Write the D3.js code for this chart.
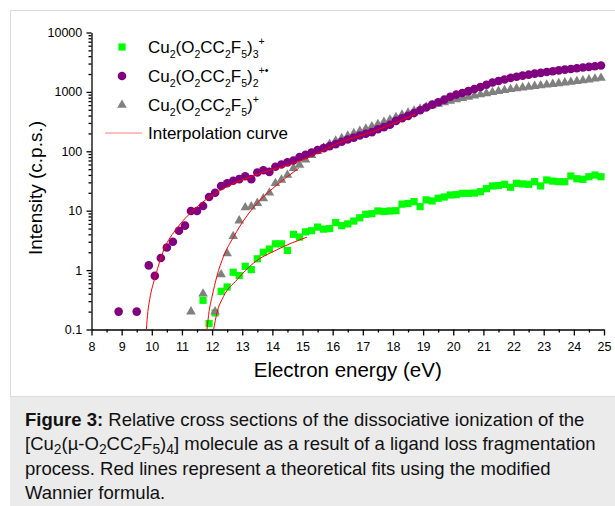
<!DOCTYPE html>
<html>
<head>
<meta charset="utf-8">
<script src="https://cdn.jsdelivr.net/npm/d3@7"></script>
<style>
  body { margin: 0; background: #fff; }
  svg { display: block; font-family: "Liberation Sans", Arial, sans-serif; }
</style>
</head>
<body>
<svg width="615" height="506"></svg>
<script>
// Energy grid (eV), one value every 0.2 eV
const energy = [8.9, 9.1, 9.3, 9.5, 9.7, 9.9, 10.1, 10.3, 10.5, 10.7, 10.9, 11.1, 11.3, 11.5, 11.7, 11.9,
  12.1, 12.3, 12.5, 12.7, 12.9, 13.1, 13.3, 13.5, 13.7, 13.9, 14.1, 14.3, 14.5, 14.7, 14.9,
  15.1, 15.3, 15.5, 15.7, 15.9, 16.1, 16.3, 16.5, 16.7, 16.9, 17.1, 17.3, 17.5, 17.7, 17.9,
  18.1, 18.3, 18.5, 18.7, 18.9, 19.1, 19.3, 19.5, 19.7, 19.9, 20.1, 20.3, 20.5, 20.7, 20.9,
  21.1, 21.3, 21.5, 21.7, 21.9, 22.1, 22.3, 22.5, 22.7, 22.9, 23.1, 23.3, 23.5, 23.7, 23.9,
  24.1, 24.3, 24.5, 24.7, 24.9];

// Cu2(O2CC2F5)3+  (green squares)
const tris = [null, null, null, null, null, null, null, null, null, null, null, null, null, null, 0.31, 0.126,
  0.19, 0.44, 0.52, 0.92, 0.81, 1.16, 1.02, 1.55, 2.0, 2.26, 2.77, 2.77, 2.14, 4.0, 3.6,
  4.4, 4.6, 5.3, 4.9, 5.0, 6.3, 5.6, 6.0, 6.7, 7.6, 8.7, 8.9, 9.9, 9.7, 9.9,
  10.0, 12.9, 13.2, 14.2, 11.7, 15.2, 14.6, 16.2, 17.0, 18.4, 18.6, 19.6, 19.6, 19.8, 20.9,
  23.5, 26.1, 26.5, 27.8, 24.8, 28.9, 28.2, 27.8, 30.8, 26.1, 32.9, 31.5, 30.8, 30.8, 38.4,
  34.5, 33.7, 37.3, 39.8, 37.3];

// Cu2(O2CC2F5)2+.  (purple circles)
const bis = [0.2, null, null, 0.2, null, 1.2, 0.8, 1.6, 2.4, 3.0, 4.6, 5.6, 9.9, 9.9, 12, 17,
  20, 26, 29, 32, 34, 38, 34, 44, 48, 45, 55, 60, 65, 70, 80,
  87, 95, 105, 113, 122, 132, 145, 158, 170, 185, 198, 210, 235, 255, 280,
  325, 360, 395, 440, 490, 545, 610, 670, 740, 830, 900, 960, 1030, 1120, 1210,
  1320, 1440, 1530, 1620, 1720, 1800, 1880, 1950, 2030, 2090, 2160, 2230, 2300, 2370, 2430,
  2500, 2570, 2640, 2700, 2780];

// Cu2(O2CC2F5)+  (grey triangles)
const mono = [null, null, null, null, null, null, null, null, null, null, null, null, 0.2, null, 0.4, null,
  0.2, 0.84, 1.9, 3.7, 6.8, 11.3, 11.7, 13.4, 16, 20, 29, 33, 40, 52, 59,
  72, 86, 100, 115, 132, 150, 165, 182, 200, 220, 240, 262, 285, 310, 340,
  375, 410, 445, 480, 520, 555, 590, 625, 665, 705, 745, 785, 825, 865, 905,
  945, 985, 1025, 1065, 1105, 1140, 1180, 1210, 1250, 1280, 1320, 1350, 1390, 1430, 1470,
  1510, 1560, 1610, 1660, 1710];

// Interpolation curves
const fitBisE = [9.82, 9.87, 9.93, 10.12, 10.4, 10.84, 11.39, 11.94, 12.5, 13.6, 14.7, 15.26, 16.03, 17.47, 18.74];
const fitBisI = [0.1, 0.2, 0.32, 0.79, 2.2, 5.1, 10.3, 17.3, 25.4, 42.6, 62.7, 81, 127, 227, 421];
const fitMonoE = [11.83, 11.9, 12.0, 12.16, 12.38, 12.72, 13.1, 13.6, 14.15, 14.87];
const fitMonoI = [0.1, 0.2, 0.36, 0.79, 1.7, 3.68, 7.5, 15.2, 27.1, 51.6];
const fitTrisE = [12.05, 12.16, 12.38, 12.83, 13.38, 14.15, 15.15];
const fitTrisI = [0.1, 0.19, 0.36, 0.69, 1.32, 2.2, 3.6];

const xTicks = [8, 9, 10, 11, 12, 13, 14, 15, 16, 17, 18, 19, 20, 21, 22, 23, 24, 25];
const yTicks = [0.1, 1, 10, 100, 1000, 10000];
const yTickLabels = ["0.1", "1", "10", "100", "1000", "10000"];

const svg = d3.select("svg");

// Panel and caption background
svg.append("rect").attr("x", 10.5).attr("y", 10.5).attr("width", 620).attr("height", 386)
  .attr("fill", "#fff").attr("stroke", "#dcdcdc");
svg.append("rect").attr("x", 10).attr("y", 397).attr("width", 610).attr("height", 115)
  .attr("fill", "#ebebeb");

// Scales
const x = d3.scaleLinear().domain([8, 25]).range([91.5, 604]);
const y = d3.scaleLog().domain([0.1, 10000]).range([329.5, 32.5]);

// X axis: major + minor ticks
const gx = svg.append("g").attr("transform", `translate(0,${y(0.1)})`);
gx.call(d3.axisBottom(x).tickValues(xTicks).tickFormat(d3.format("d")).tickSize(6).tickSizeOuter(0));
svg.append("g").attr("transform", `translate(0,${y(0.1)})`)
  .call(d3.axisBottom(x).tickValues(xTicks.slice(0, -1).map(d => d + 0.5)).tickFormat("").tickSize(3).tickSizeOuter(0))
  .select(".domain").remove();

// Y axis: decades + minor ticks
const gy = svg.append("g").attr("transform", `translate(${x(8)},0)`);
gy.call(d3.axisLeft(y).tickValues(yTicks).tickFormat((d, i) => yTickLabels[i]).tickSize(5).tickSizeOuter(0));
const minorY = [];
yTicks.slice(0, -1).forEach(d => [2, 3, 4, 5, 6, 7, 8, 9].forEach(m => minorY.push(d * m)));
svg.append("g").attr("transform", `translate(${x(8)},0)`)
  .call(d3.axisLeft(y).tickValues(minorY).tickFormat("").tickSize(3).tickSizeOuter(0))
  .select(".domain").remove();

svg.selectAll(".domain, .tick line").attr("stroke", "#000").attr("stroke-width", 1.3);
svg.selectAll(".tick text").attr("font-family", "Liberation Sans, Arial, sans-serif")
  .attr("font-size", 12.5).attr("fill", "#000");
gx.selectAll(".tick text").attr("dy", "1.0em");
gy.selectAll(".tick text").attr("dx", "-0.1em");

// Axis titles
svg.append("text").attr("x", (x(8) + x(25)) / 2).attr("y", 377).attr("text-anchor", "middle")
  .attr("font-size", 20.5).text("Electron energy (eV)");
svg.append("text").attr("transform", "translate(42,188) rotate(-90)").attr("text-anchor", "middle")
  .attr("font-size", 19).text("Intensity (c.p.s.)");

// Data points
const pts = arr => energy.map((e, i) => ({e, v: arr[i]})).filter(d => d.v != null);
const plot = svg.append("g");

plot.selectAll(".tris").data(pts(tris)).join("path")
  .attr("class", "tris")
  .attr("d", d3.symbol(d3.symbolSquare, 52))
  .attr("transform", d => `translate(${x(d.e)},${y(d.v)})`)
  .attr("fill", "#00ff00");

plot.selectAll(".mono").data(pts(mono)).join("path")
  .attr("class", "mono")
  .attr("d", d3.symbol(d3.symbolTriangle, 40))
  .attr("transform", d => `translate(${x(d.e)},${y(d.v)})`)
  .attr("fill", "#808080");

plot.selectAll(".bis").data(pts(bis)).join("circle")
  .attr("class", "bis")
  .attr("cx", d => x(d.e)).attr("cy", d => y(d.v)).attr("r", 4.3)
  .attr("fill", "#800080");

// Fit curves
const line = d3.line().x(d => x(d[0])).y(d => y(d[1])).curve(d3.curveMonotoneX);
[[fitBisE, fitBisI], [fitMonoE, fitMonoI], [fitTrisE, fitTrisI]].forEach(([es, is]) => {
  plot.append("path").attr("d", line(es.map((e, i) => [e, is[i]])))
    .attr("fill", "none").attr("stroke", "#ff0000").attr("stroke-width", 1);
});

// Rich text helper: parts are [text, "", "sub" or "sup"]
function rich(sel, parts, size, subScale = 0.62, subShift = 0.3) {
  let shift = 0;
  parts.forEach(([t, k]) => {
    const target = k === "sub" ? size * subShift : k === "sup" ? -size * 0.45 : 0;
    sel.append("tspan").attr("dy", target - shift)
      .attr("font-size", k ? size * subScale : size).text(t);
    shift = target;
  });
}

// Legend
const legend = svg.append("g").attr("font-size", 17);
const base = [["Cu", ""], ["2", "sub"], ["(O", ""], ["2", "sub"], ["CC", ""], ["2", "sub"], ["F", ""], ["5", "sub"], [")", ""]];
const legendRows = [
  {y: 47, parts: base.concat([["3", "sub"], ["+", "sup"]]), sym: "square"},
  {y: 76, parts: base.concat([["2", "sub"], ["+•", "sup"]]), sym: "circle"},
  {y: 105, parts: base.concat([["+", "sup"]]), sym: "triangle"}
];
legendRows.forEach(r => {
  if (r.sym === "square") legend.append("path").attr("d", d3.symbol(d3.symbolSquare, 52)())
    .attr("transform", `translate(122,${r.y})`).attr("fill", "#00ff00");
  if (r.sym === "circle") legend.append("circle").attr("cx", 122).attr("cy", r.y).attr("r", 4.3).attr("fill", "#800080");
  if (r.sym === "triangle") legend.append("path").attr("d", d3.symbol(d3.symbolTriangle, 40)())
    .attr("transform", `translate(122,${r.y})`).attr("fill", "#808080");
  rich(legend.append("text").attr("x", 148).attr("y", r.y + 6), r.parts, 17);
});
legend.append("line").attr("x1", 105).attr("x2", 142).attr("y1", 133).attr("y2", 133)
  .attr("stroke", "#ff8080").attr("stroke-width", 1.2);
legend.append("text").attr("x", 148).attr("y", 139).text("Interpolation curve");

// Caption
const cs = 18.5;
const cap = svg.append("g").attr("font-size", cs).attr("fill", "#111");
const l1 = cap.append("text").attr("x", 25).attr("y", 426);
l1.append("tspan").attr("font-weight", "bold").text("Figure 3:");
l1.append("tspan").text(" Relative cross sections of the dissociative ionization of the");
rich(cap.append("text").attr("x", 25).attr("y", 450), [["[Cu", ""], ["2", "sub"], ["(µ-O", ""], ["2", "sub"], ["CC", ""],
  ["2", "sub"], ["F", ""], ["5", "sub"], [")", ""], ["4", "sub"], ["] molecule as a result of a ligand loss fragmentation", ""]], cs, 0.75, 0.2);
cap.append("text").attr("x", 25).attr("y", 475).text("process. Red lines represent a theoretical fits using the modified");
cap.append("text").attr("x", 25).attr("y", 499).text("Wannier formula.");
</script>
</body>
</html>
